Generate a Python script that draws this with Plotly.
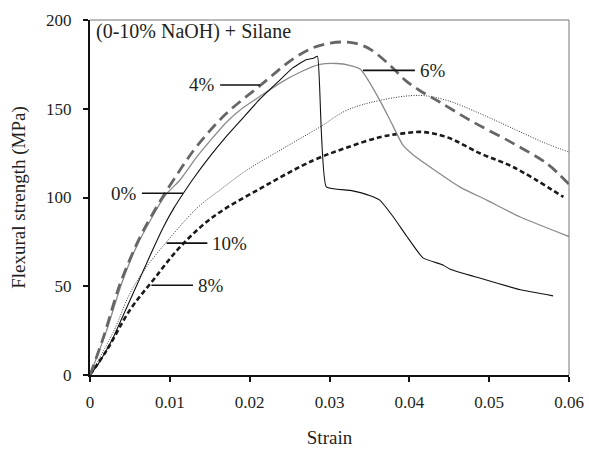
import plotly.graph_objects as go

# Flexural stress-strain curves, (0-10% NaOH) + Silane treatment
strain_0 = [0, 0.001, 0.002, 0.003, 0.004, 0.005, 0.006, 0.007, 0.008, 0.0092, 0.0105, 0.0117,
            0.013, 0.015, 0.017, 0.019, 0.0213, 0.0235, 0.0254, 0.027, 0.028, 0.0285,
            0.0296, 0.0326, 0.0351, 0.0363, 0.038, 0.0397, 0.0417, 0.0442, 0.0451, 0.0489,
            0.0539, 0.058]
stress_0 = [0, 6, 13.5, 22, 32, 42, 52, 62, 72, 83.4, 94, 102.4,
            111, 123, 134, 144, 155.5, 165, 173, 177.5, 178.5, 179.5,
            106, 104, 101, 98.5, 89, 78, 66, 62, 59.6, 54.5,
            48, 44.6]

strain_4 = [0, 0.0017, 0.0038, 0.0063, 0.008, 0.0094, 0.0115, 0.0134, 0.017, 0.0213, 0.0254,
            0.028, 0.0301, 0.0317, 0.0333, 0.0351, 0.0376, 0.0395, 0.0413, 0.0438, 0.048,
            0.053, 0.0572, 0.06]
stress_4 = [0, 21.5, 51.7, 78, 92, 102.4, 117, 129, 147, 163, 178,
            184.5, 187, 187.6, 186.8, 183.5, 174.4, 166, 160.3, 153.8, 142.5,
            130.5, 119.2, 107.5]

strain_6 = [0, 0.002, 0.004, 0.006, 0.0094, 0.0113, 0.0134, 0.017, 0.019, 0.0213, 0.024,
            0.0265, 0.0288, 0.0309, 0.0325, 0.0338, 0.0346, 0.0363, 0.0376, 0.0392, 0.0405,
            0.0426, 0.0463, 0.0497, 0.0539, 0.06]
stress_6 = [0, 24, 52, 74, 101, 110, 123, 142, 150, 157, 165,
            171, 175, 175.5, 174.5, 172.5, 167.8, 154.7, 143.5, 129.5, 124,
            117.2, 106, 98.5, 89, 78]

strain_8 = [0, 0.0021, 0.005, 0.0079, 0.0113, 0.0154, 0.0217, 0.028, 0.0321, 0.0363, 0.039,
            0.0417, 0.0447, 0.0489, 0.053, 0.0593]
stress_8 = [0, 14, 36.6, 53.4, 72.2, 89, 106, 121, 128, 134, 136,
            136.9, 134, 124.8, 117.2, 100.3]

strain_10 = [0, 0.003, 0.005, 0.0071, 0.0096, 0.0134, 0.0165, 0.0196, 0.0238, 0.0288, 0.0321,
             0.0363, 0.0413, 0.0447, 0.0489, 0.053, 0.0572, 0.06]
stress_10 = [0, 25, 46, 61, 75, 94, 105, 115.3, 126.6, 139.7, 149,
             154.7, 157.5, 154.7, 147.2, 138.8, 130.3, 125.6]

# Leader lines for the curve labels: (label, x-start, x-end, y, text side)
labels = ["4%", "6%", "0%", "10%", "8%"]
lead_x0 = [0.0163, 0.0342, 0.0065, 0.0096, 0.0077]
lead_x1 = [0.0213, 0.0407, 0.01165, 0.0147, 0.0129]
lead_y = [163.4, 171.6, 102.4, 74.3, 50.6]
text_side = ["left", "right", "left", "right", "right"]

x_ticks = [0, 0.01, 0.02, 0.03, 0.04, 0.05, 0.06]
y_ticks = [0, 50, 100, 150, 200]

FONT = "'Liberation Serif', 'DejaVu Serif', serif"
INK = "#231f20"
TICK_FS = 17
TITLE_FS = 19
LABEL_FS = 19

fig = go.Figure()

fig.add_trace(go.Scatter(x=strain_10, y=stress_10, mode="lines", line_shape="spline",
                         line=dict(color="#333333", width=1, dash="1px,1.5px")))
fig.add_trace(go.Scatter(x=strain_8, y=stress_8, mode="lines", line_shape="spline",
                         line=dict(color="#1a1a1a", width=2.6, dash="5px,3px")))
fig.add_trace(go.Scatter(x=strain_6, y=stress_6, mode="lines", line_shape="spline",
                         line=dict(color="#8a8a8a", width=1.3, smoothing=0.6)))
fig.add_trace(go.Scatter(x=strain_0, y=stress_0, mode="lines", line_shape="spline",
                         line=dict(color="#111111", width=1.1, smoothing=0.4)))
fig.add_trace(go.Scatter(x=strain_4, y=stress_4, mode="lines", line_shape="spline",
                         line=dict(color="#666666", width=2.8, dash="11px,6px")))

for lab, x0, x1, y, side in zip(labels, lead_x0, lead_x1, lead_y, text_side):
    fig.add_trace(go.Scatter(x=[x0, x1], y=[y, y], mode="lines",
                             line=dict(color="#111111", width=1.6)))
    if side == "left":
        fig.add_annotation(x=x0, y=y, text=lab, showarrow=False, xanchor="right",
                           xshift=-3, font=dict(family=FONT, size=LABEL_FS, color=INK))
    else:
        fig.add_annotation(x=x1, y=y, text=lab, showarrow=False, xanchor="left",
                           xshift=3, font=dict(family=FONT, size=LABEL_FS, color=INK))

fig.add_annotation(x=0.0005, y=193.5, text="(0-10% NaOH) + Silane", showarrow=False,
                   xanchor="left", yanchor="middle",
                   font=dict(family=FONT, size=20, color=INK))

# thin grey frame on top and right
fig.add_shape(type="line", xref="paper", yref="paper", x0=0, x1=1, y0=1, y1=1,
              line=dict(color="#777777", width=1))
fig.add_shape(type="line", xref="paper", yref="paper", x0=1, x1=1, y0=0, y1=1,
              line=dict(color="#777777", width=1))

fig.update_layout(
    width=589, height=451,
    margin=dict(l=90, r=20, t=20, b=76, autoexpand=False),
    paper_bgcolor="white", plot_bgcolor="white",
    showlegend=False,
    font=dict(family=FONT, size=TICK_FS, color=INK),
    xaxis=dict(range=[0, 0.06], tickvals=x_ticks, ticktext=[f"{v:g}" for v in x_ticks],
               automargin=False,
               showgrid=False, zeroline=False, showline=True, linecolor="#111111",
               linewidth=2, ticks="outside", ticklen=5, tickwidth=1.5, tickcolor="#111111",
               ticklabelstandoff=6,
               title=dict(text="Strain", standoff=19, font=dict(family=FONT, size=TITLE_FS))),
    yaxis=dict(range=[0, 200], tickvals=y_ticks, showgrid=False, zeroline=False,
               automargin=False,
               showline=True, linecolor="#111111", linewidth=2, ticks="outside",
               ticklen=5, tickwidth=1.5, tickcolor="#111111", ticklabelstandoff=8,
               title=dict(text="Flexural strength (MPa)", standoff=15,
                          font=dict(family=FONT, size=TITLE_FS))),
)

fig.write_html("out.html")
